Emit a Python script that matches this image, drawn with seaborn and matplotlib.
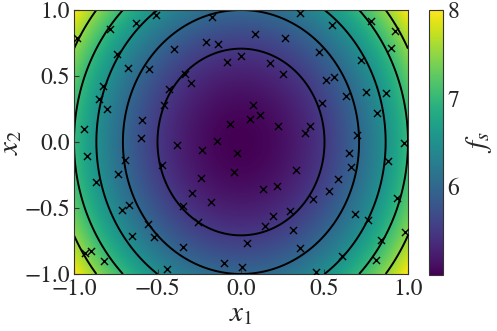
import numpy as np
import pandas as pd
import matplotlib
matplotlib.use("Agg")
import matplotlib.pyplot as plt
import seaborn as sns

# Surface f_s(x1, x2) = base + c1 * x1^2 + c2 * x2^2
f_base = 5.0
c_x1 = 2.0
c_x2 = 1.0
contour_levels = [5.5, 6.0, 6.5, 7.0, 7.5]
cbar_ticks = [6, 7, 8]
axis_ticks = [-1.0, -0.5, 0.0, 0.5, 1.0]

# Sample locations
x1_pts = [-0.980, -0.784, -0.631, -0.509, -0.401, -0.744, -0.678, -0.549, -0.334, -0.828,
          -0.431, -0.850, -0.801, -0.459, -0.593, -0.942, -0.597, -0.385, -0.172, 0.084,
          0.263, -0.208, -0.136, -0.002, -0.082, 0.172, 0.251, -0.298, 0.074, 0.112,
          0.056, -0.064, 0.223, -0.142, 0.356, 0.547, 0.778, 0.925, 0.901, 0.470,
          0.719, 0.510, 0.557, 0.627, 0.751, 0.871, 0.488, 0.816, 0.416, 0.384,
          0.696, 0.974, -0.925, -0.695, -0.476, -0.738, -0.869, -0.350, -0.669, -0.710,
          -0.559, -0.519, -0.653, -0.347, -0.937, -0.899, -0.819, -0.441, -0.232, -0.026,
          0.328, -0.042, -0.238, -0.292, 0.133, 0.213, -0.177, 0.293, 0.192, -0.260,
          0.144, 0.313, 0.034, 0.353, -0.101, 0.003, 0.648, 0.883, 0.659, 0.582,
          0.527, 0.431, 0.937, 0.680, 0.760, 0.985, 0.841, 0.606, 0.807, 0.452]
x2_pts = [0.790, 0.858, 0.904, 0.960, 0.702, 0.669, 0.558, 0.555, 0.513, 0.424,
          0.404, 0.323, 0.252, 0.278, 0.164, 0.098, 0.033, -0.023, 0.947, 0.820,
          0.790, 0.758, 0.745, 0.652, 0.606, 0.596, 0.513, 0.445, 0.278, 0.208,
          0.178, 0.140, 0.125, 0.005, 0.980, 0.890, 0.914, 0.839, 0.714, 0.680,
          0.624, 0.468, 0.490, 0.352, 0.380, 0.369, 0.299, 0.222, 0.121, 0.068,
          0.056, -0.005, -0.103, -0.136, -0.178, -0.244, -0.301, -0.486, -0.474, -0.515,
          -0.621, -0.717, -0.712, -0.792, -0.841, -0.826, -0.900, -0.959, -0.058, -0.083,
          -0.212, -0.230, -0.270, -0.386, -0.358, -0.331, -0.452, -0.523, -0.561, -0.604,
          -0.636, -0.667, -0.765, -0.805, -0.913, -0.949, -0.081, -0.144, -0.193, -0.282,
          -0.373, -0.430, -0.427, -0.545, -0.591, -0.682, -0.742, -0.862, -0.894, -0.983]

sns.set_style("ticks")
plt.rcParams["font.family"] = ["STIXGeneral", "DejaVu Serif"]
plt.rcParams["mathtext.fontset"] = "stix"
plt.rcParams["xtick.direction"] = "in"
plt.rcParams["ytick.direction"] = "in"

g = np.linspace(-1, 1, 400)
X1, X2 = np.meshgrid(g, g)
F = f_base + c_x1 * X1**2 + c_x2 * X2**2

fig = plt.figure(figsize=(4.97, 3.31), dpi=100)
ax = fig.add_axes([74 / 497, 1 - 274 / 331, 334 / 497, 264 / 331])
cax = fig.add_axes([428.5 / 497, 1 - 275 / 331, 14.2 / 497, 265 / 331])

im = ax.imshow(F, extent=[-1, 1, -1, 1], origin="lower", cmap="viridis",
               vmin=5.0, vmax=8.0, aspect="auto", interpolation="bilinear")
ax.contour(X1, X2, F, levels=contour_levels, colors="black", linewidths=1.4)

pts = pd.DataFrame({"x1": x1_pts, "x2": x2_pts})
sns.scatterplot(data=pts, x="x1", y="x2", marker="x", color="black", s=26,
                linewidth=1.0, ax=ax, legend=False, zorder=5)

ax.set_xlim(-1, 1)
ax.set_ylim(-1, 1)
ax.set_xticks(axis_ticks)
ax.set_yticks(axis_ticks)
ax.tick_params(labelsize=17, length=3.5, width=0.8, color="#333333", pad=3)
ax.set_xlabel("$x_1$", fontsize=21, labelpad=2)
ax.set_ylabel("$x_2$", fontsize=21, labelpad=0)
for s in ax.spines.values():
    s.set_color("#333333")
    s.set_linewidth(0.8)

cb = fig.colorbar(im, cax=cax, ticks=cbar_ticks)
cb.ax.tick_params(labelsize=17, direction="in", length=3.5, width=0.8, color="#333333")
cb.outline.set_edgecolor("#333333")
cb.outline.set_linewidth(0.8)
cb.set_label("$f_s$", fontsize=21, labelpad=3)

fig.savefig("out.png", dpi=100)
